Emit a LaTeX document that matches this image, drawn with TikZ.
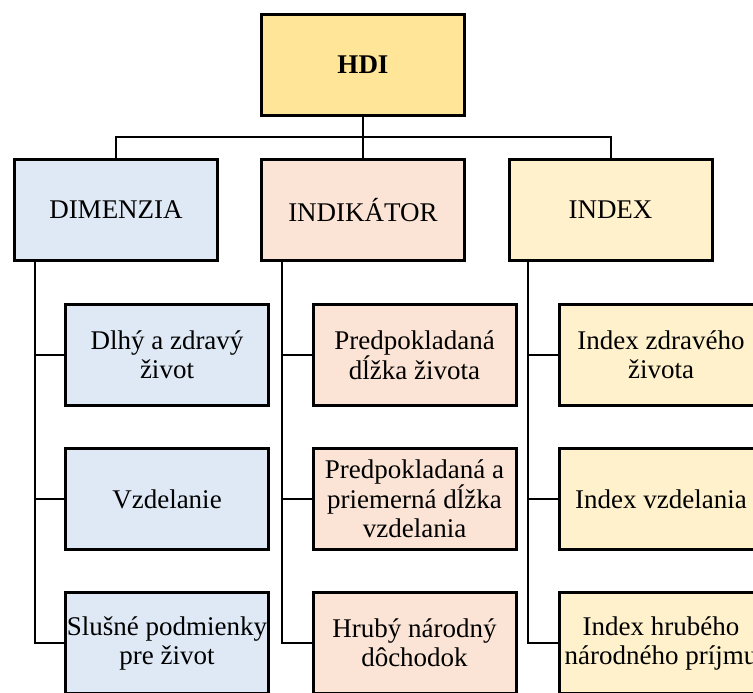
\documentclass[tikz,border=0pt]{standalone}
\usepackage{fontspec}
\setmainfont{Liberation Serif}
\definecolor{hdigold}{HTML}{FFE597}
\definecolor{dimblue}{HTML}{DEE9F5}
\definecolor{indpeach}{HTML}{FBE4D5}
\definecolor{idxcream}{HTML}{FFF1CB}
\tikzset{
  box/.style={draw=black, line width=3pt, minimum width=203pt, minimum height=101pt,
    align=center, inner sep=0pt, text=black,
    font=\fontsize{27}{29}\selectfont},
  conn/.style={draw=black, line width=2pt},
}
\begin{document}
\begin{tikzpicture}[x=1pt,y=-1pt]
\useasboundingbox (0,0) rectangle (753,693);
\clip (0,0) rectangle (753,693);
% top
\node[box, fill=hdigold, font=\fontsize{27}{29}\selectfont\bfseries] (hdi) at (363,65) {HDI};
% headers
\node[box, fill=dimblue] (dim) at (116,210) {DIMENZIA};
\node[box, fill=indpeach] (ind) at (363,210) {INDIKÁTOR};
\node[box, fill=idxcream] (idx) at (610.5,210) {INDEX};
% children: dimension
\node[box, fill=dimblue] (d1) at (167,355) {Dlhý a zdravý\\život};
\node[box, fill=dimblue] (d2) at (167,499) {Vzdelanie};
\node[box, fill=dimblue] (d3) at (167,643) {Slušné podmienky\\pre život};
% children: indicator
\node[box, fill=indpeach] (i1) at (414.5,355) {Predpokladaná\\dĺžka života};
\node[box, fill=indpeach] (i2) at (414.5,499) {Predpokladaná a\\priemerná dĺžka\\vzdelania};
\node[box, fill=indpeach] (i3) at (414.5,643) {Hrubý národný\\dôchodok};
% children: index
\node[box, fill=idxcream] (x1) at (661,355) {Index zdravého\\života};
\node[box, fill=idxcream] (x2) at (661,499) {Index vzdelania};
\node[box, fill=idxcream] (x3) at (661,643) {Index hrubého\\národného príjmu};
% bus
\coordinate (bus) at (363,137);
\draw[conn] (hdi.south) -- (ind.north);
\draw[conn] (dim.north) |- (bus) -| (idx.north);
% spines
\coordinate (sd) at (35,0);
\coordinate (si) at (282,0);
\coordinate (sx) at (528,0);
\draw[conn] (dim.south -| sd) |- (d1.west);
\draw[conn] (dim.south -| sd) |- (d2.west);
\draw[conn] (dim.south -| sd) |- (d3.west);
\draw[conn] (ind.south -| si) |- (i1.west);
\draw[conn] (ind.south -| si) |- (i2.west);
\draw[conn] (ind.south -| si) |- (i3.west);
\draw[conn] (idx.south -| sx) |- (x1.west);
\draw[conn] (idx.south -| sx) |- (x2.west);
\draw[conn] (idx.south -| sx) |- (x3.west);
\end{tikzpicture}
\end{document}
